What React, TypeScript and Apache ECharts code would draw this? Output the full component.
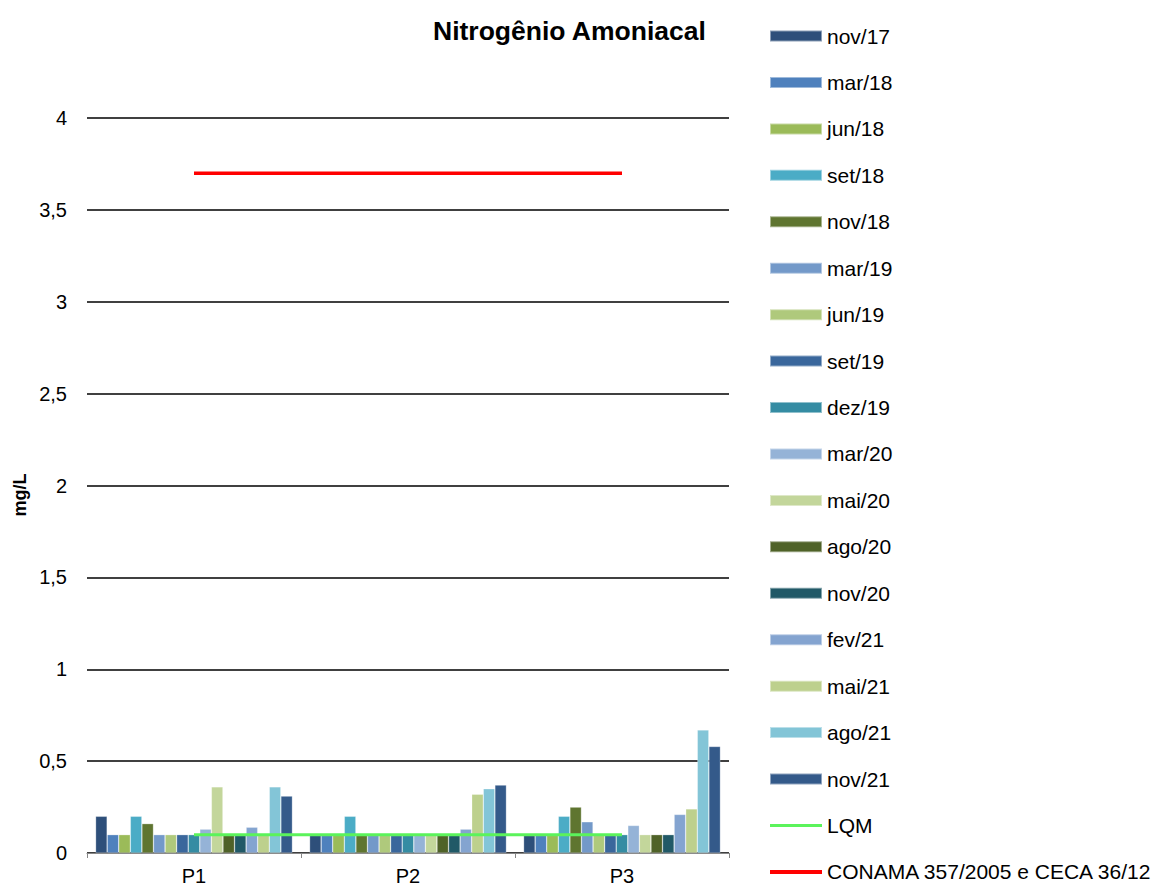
import React, { useEffect, useRef } from "react";
import * as echarts from "echarts";

const categories = ["P1", "P2", "P3"];
const campaigns = [
  "nov/17", "mar/18", "jun/18", "set/18", "nov/18", "mar/19", "jun/19", "set/19", "dez/19",
  "mar/20", "mai/20", "ago/20", "nov/20", "fev/21", "mai/21", "ago/21", "nov/21",
];
const colors = [
  "#2E4F7A", "#4F81BD", "#9BBB59", "#4BACC6", "#5F7530", "#7399C9", "#AFC97C", "#3A679C", "#358CA3",
  "#95B3D7", "#C3D69B", "#4F6228", "#215967", "#84A4D0", "#BDD08D", "#83C5D7", "#345A8A",
];
// values per campaign: [P1, P2, P3]
const values = [
  [0.2, 0.1, 0.1],
  [0.1, 0.1, 0.1],
  [0.1, 0.1, 0.1],
  [0.2, 0.2, 0.2],
  [0.16, 0.1, 0.25],
  [0.1, 0.1, 0.17],
  [0.1, 0.1, 0.1],
  [0.1, 0.1, 0.1],
  [0.1, 0.1, 0.1],
  [0.13, 0.1, 0.15],
  [0.36, 0.1, 0.1],
  [0.1, 0.1, 0.1],
  [0.1, 0.1, 0.1],
  [0.14, 0.13, 0.21],
  [0.1, 0.32, 0.24],
  [0.36, 0.35, 0.67],
  [0.31, 0.37, 0.58],
];
const lqm = [0.1, 0.1, 0.1];
const conama = [3.7, 3.7, 3.7];
const yTicks = { min: 0, max: 4, interval: 0.5 };

const FONT = "Liberation Sans, Arial, sans-serif";

export default function App() {
  const ref = useRef<HTMLDivElement>(null);
  useEffect(() => {
    const chart = echarts.init(ref.current!, undefined, { renderer: "svg" });
    const barSeries = campaigns.map((name, i) => ({
      name,
      type: "bar",
      data: values[i],
      barGap: "0%",
      barCategoryGap: "8%",
      itemStyle: { color: colors[i], borderColor: "rgba(255,255,255,0.45)", borderWidth: 0.6 },
    }));
    chart.setOption({
      animation: false,
      title: {
        text: "Nitrogênio Amoniacal",
        left: 433,
        top: 17,
        padding: 0,
        textStyle: { fontFamily: FONT, fontSize: 26.5, fontWeight: "bold", color: "#000" },
      },
      legend: {
        orient: "vertical",
        left: 769,
        top: 25,
        height: 860,
        padding: 0,
        itemWidth: 52,
        itemHeight: 11,
        itemGap: 24.44,
        textStyle: { fontFamily: FONT, fontSize: 21, color: "#000", lineHeight: 22 },
        data: [
          ...campaigns.map((n) => ({ name: n, icon: "rect" })),
          { name: "LQM", icon: "path://M0,0 L52,0 L52,3 L0,3 Z", itemStyle: { color: "#5BF35B" } },
          {
            name: "CONAMA 357/2005 e CECA 36/12",
            icon: "path://M0,0 L52,0 L52,4 L0,4 Z",
            itemStyle: { color: "#FF0000" },
          },
        ],
      },
      grid: { left: 87, right: 429, top: 118, bottom: 31, containLabel: false },
      xAxis: {
        type: "category",
        data: categories,
        axisLine: { lineStyle: { color: "#868686", width: 1 } },
        axisTick: { show: true, length: 5, lineStyle: { color: "#868686" } },
        axisLabel: { fontFamily: FONT, fontSize: 20, color: "#000", margin: 13 },
      },
      yAxis: {
        type: "value",
        min: yTicks.min,
        max: yTicks.max,
        interval: yTicks.interval,
        axisLine: { show: false },
        axisTick: { show: false },
        axisLabel: {
          fontFamily: FONT,
          fontSize: 20,
          color: "#000",
          margin: 20,
          formatter: (v: number) => String(v).replace(".", ","),
        },
        splitLine: { lineStyle: { color: "#000", width: 1.5 } },
      },
      graphic: [
        {
          type: "text",
          x: 20,
          y: 495,
          rotation: Math.PI / 2,
          style: {
            text: "mg/L",
            align: "center",
            verticalAlign: "middle",
            font: "bold 18px Liberation Sans, Arial, sans-serif",
            fill: "#000",
          },
        },
      ],
      series: [
        ...barSeries,
        {
          name: "LQM",
          type: "line",
          data: lqm,
          symbol: "none",
          lineStyle: { color: "#5BF35B", width: 3 },
          itemStyle: { color: "#5BF35B" },
          z: 5,
        },
        {
          name: "CONAMA 357/2005 e CECA 36/12",
          type: "line",
          data: conama,
          symbol: "none",
          lineStyle: { color: "#FF0000", width: 3.5 },
          itemStyle: { color: "#FF0000" },
          z: 5,
        },
      ],
    });
    return () => chart.dispose();
  }, []);
  return (
    <div
      ref={ref}
      style={{ position: "fixed", left: 0, top: 0, width: 1158, height: 886, background: "#fff" }}
    />
  );
}
